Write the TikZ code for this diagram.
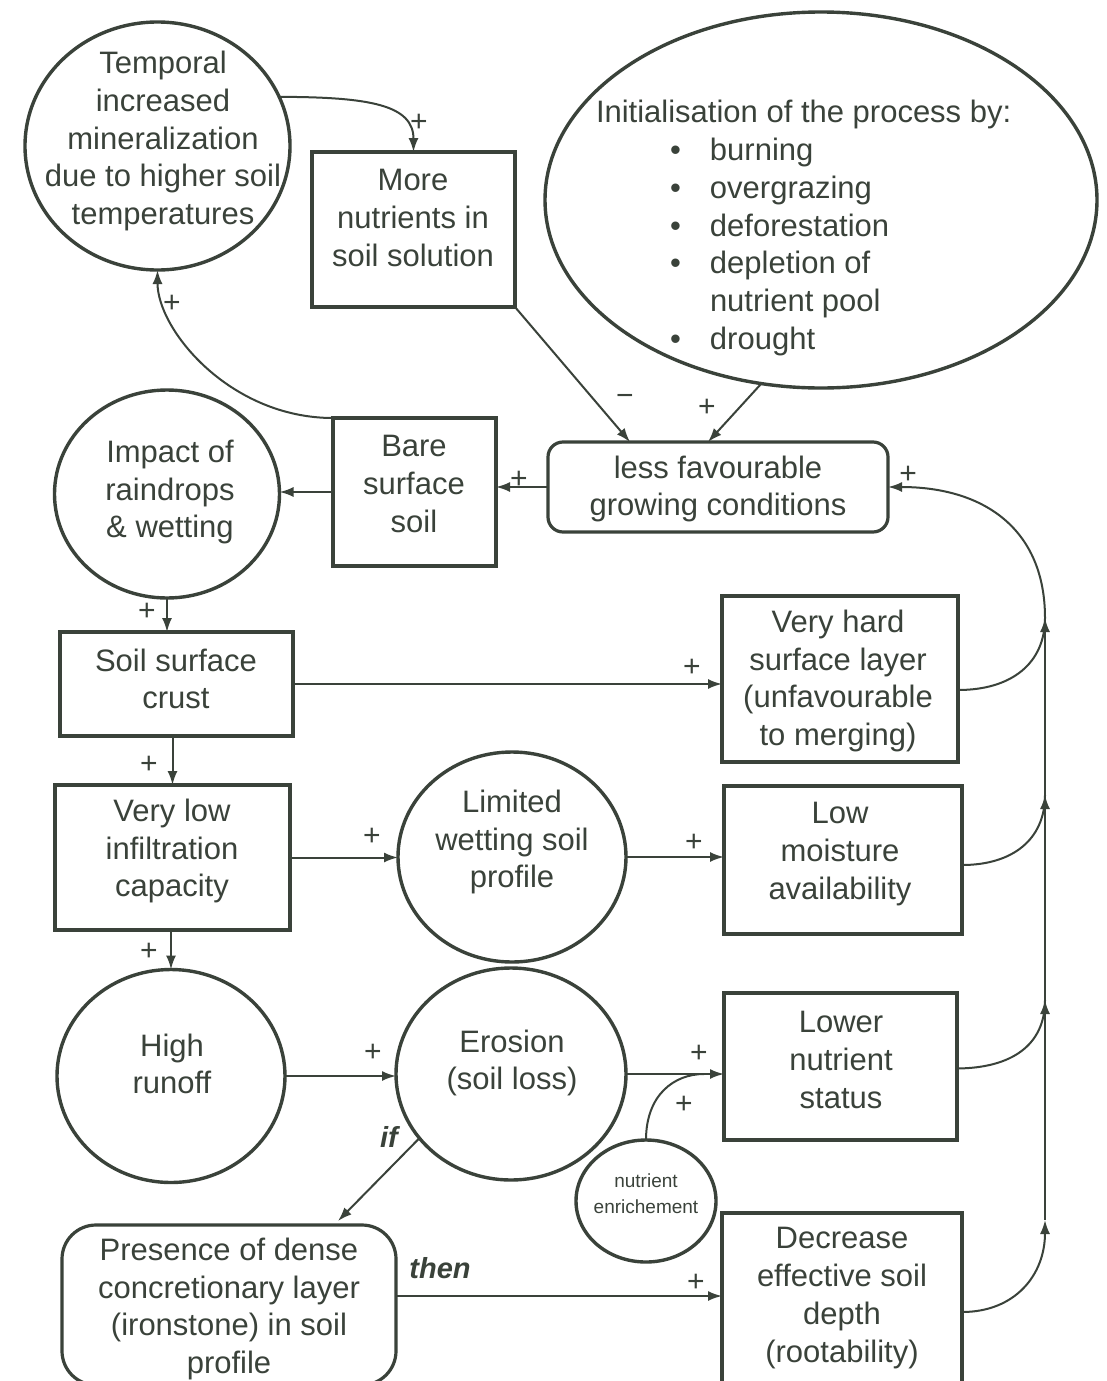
\documentclass[tikz,border=0pt]{standalone}
\usepackage{fontspec}
\setmainfont{Liberation Sans}
\usetikzlibrary{arrows.meta,shapes.geometric,calc}
\definecolor{ink}{RGB}{58,66,58}
\newcommand{\itembul}{\hspace*{37pt}\makebox[20pt][l]{\textbullet}}
\newcommand{\itemnob}{\hspace*{37pt}\makebox[20pt][l]{}}
\begin{document}
\begin{tikzpicture}[x=0.5pt,y=-0.5pt,
  every node/.style={inner sep=0pt, outer sep=0pt, text=ink},
  txt/.style={font=\fontsize{15.5pt}{18.9pt}\selectfont, align=center},
  box/.style={draw=ink, line width=2pt, rectangle},
  rbox/.style={draw=ink, line width=1.6pt, rectangle, rounded corners=7.5pt},
  circ/.style={draw=ink, line width=1.7pt, ellipse},
  arr/.style={draw=ink, line width=1pt, -{Latex[length=7pt,width=5pt]}},
  ln/.style={draw=ink, line width=1pt},
  sgn/.style={font=\fontsize{15pt}{15pt}\selectfont},
  cond/.style={font=\fontsize{14.5pt}{14.5pt}\selectfont\bfseries\itshape}
]
\useasboundingbox[fill=white] (0,0) rectangle (1107,1381);

% ---- shapes ----
\node[circ, minimum width=132.5pt, minimum height=124pt] (temp) at (157.5,146) {};
\node[box, minimum width=101.5pt, minimum height=77.5pt] (more) at (413.5,229.5) {};
\node[circ, minimum width=276pt, minimum height=188pt] (init) at (821,200) {};
\node[rbox, minimum width=170pt, minimum height=45pt] (less) at (718,487) {};
\node[box, minimum width=81.5pt, minimum height=74pt] (bare) at (414.5,492) {};
\node[circ, minimum width=112.5pt, minimum height=104pt] (impact) at (167,494) {};
\node[box, minimum width=116.5pt, minimum height=52pt] (crust) at (176.5,684) {};
\node[box, minimum width=118pt, minimum height=83pt] (hard) at (840,679) {};
\node[box, minimum width=117.5pt, minimum height=72.5pt] (lowinf) at (172.5,857.5) {};
\node[circ, minimum width=114pt, minimum height=105pt] (limited) at (512,857) {};
\node[box, minimum width=119pt, minimum height=74pt] (moist) at (843,860) {};
\node[circ, minimum width=114pt, minimum height=106.5pt] (runoff) at (171,1076) {};
\node[circ, minimum width=115pt, minimum height=106pt] (erosion) at (511,1074) {};
\node[box, minimum width=116.5pt, minimum height=73.5pt] (lownut) at (840.5,1066.5) {};
\node[circ, minimum width=70pt, minimum height=61pt] (enrich) at (646,1201) {};
\node[box, minimum width=120pt, minimum height=86pt] (dec) at (842,1299) {};
\node[rbox, rounded corners=17pt, minimum width=167pt, minimum height=80pt] (pres) at (229,1305) {};

% ---- texts ----
\node[txt] (tempT) at (163,141) {Temporal\\increased\\mineralization\\due to higher soil\\temperatures};
\node[txt] (moreT) at (413,218) {More\\nutrients in\\soil solution};
\node[txt, align=left, anchor=west] (initT) at (596,228) {Initialisation of the process by:\\
\itembul burning\\
\itembul overgrazing\\
\itembul deforestation\\
\itembul depletion of\\
\itemnob nutrient pool\\
\itembul drought};
\node[txt] (lessT) at (718,489) {less favourable\\growing conditions};
\node[txt] (bareT) at (414,484) {Bare\\surface\\soil};
\node[txt] (impactT) at (170,492) {Impact of\\raindrops\\\& wetting};
\node[txt] (crustT) at (176,679) {Soil surface\\crust};
\node[txt] (hardT) at (838,681) {Very hard\\surface layer\\(unfavourable\\to merging)};
\node[txt] (lowinfT) at (172,851) {Very low\\infiltration\\capacity};
\node[txt] (limitedT) at (512,842) {Limited\\wetting soil\\profile};
\node[txt] (moistT) at (840,854) {Low\\moisture\\availability};
\node[txt] (runoffT) at (172,1064) {High\\runoff};
\node[txt] (erosionT) at (512,1063) {Erosion\\(soil loss)};
\node[txt] (lownutT) at (841,1060) {Lower\\nutrient\\status};
\node[txt, font=\fontsize{9.5pt}{13pt}\selectfont] (enrichT) at (646,1194) {nutrient\\enrichement};
\node[txt] (decT) at (842,1298) {Decrease\\effective soil\\depth\\(rootability)};
\node[txt] (presT) at (229,1309) {Presence of dense\\concretionary layer\\(ironstone) in soil\\profile};

% ---- connectors ----
\draw[arr] (temp.22) .. controls (370,97) and (413.5,105) .. (more.north);
\draw[arr] (bare.north west) .. controls (230,418) and (157.5,330) .. (temp.south);
\coordinate (lessA) at ($(less.north)+(-88,0)$);
\coordinate (lessB) at ($(less.north)+(-10,0)$);
\draw[arr] (more.south east) -- (lessA);
\draw[arr] (init.-108) -- (lessB);
\draw[arr] (less.west) -- (less.west -| bare.east);
\draw[arr] (bare.west) -- (bare.west -| impact.east);
\draw[arr] (impact.south) -- (impact.south |- crust.north);
\draw[arr] (crust.east) -- (crust.east -| hard.west);
\draw[arr] (lowinf.north |- crust.south) -- (lowinf.north);
\draw[arr] (lowinf.east) -- (lowinf.east -| limited.west);
\draw[arr] (limited.east) -- (limited.east -| moist.west);
\draw[arr] (runoff.north |- lowinf.south) -- (runoff.north);
\draw[arr] (runoff.east) -- (runoff.east -| erosion.west);
\draw[arr] (erosion.east) -- (erosion.east -| lownut.west);
\coordinate (merge) at ($(erosion.east -| lownut.west)+(-20,0)$);
\draw[ln] (enrich.north) .. controls ($(enrich.north)+(0,-45)$) and ($(merge)+(-30,0)$) .. (merge);
\coordinate (presA) at ($(pres.north east)+(-58,-4)$);
\draw[arr] (erosion.215) -- (presA);
\coordinate (presE) at ($(pres.east)+(0,-9)$);
\draw[arr] (presE) -- (presE -| dec.west);

% feedback line
\coordinate (j1) at (1045,618);
\coordinate (j2) at (1045,795);
\coordinate (j3) at (1045,1000);
\coordinate (j4) at (1045,1220);
\draw[arr] ($(dec.east)+(0,13)$) .. controls (1015,1312) and (1045,1275) .. (j4);
\draw[arr] (j4) -- (j3);
\draw[ln] ($(lownut.east)+(0,2)$) .. controls (1012,1068) and (1045,1045) .. (j3);
\draw[arr] (j3) -- (j2);
\draw[ln] ($(moist.east)+(0,5)$) .. controls (1012,865) and (1045,840) .. (j2);
\draw[arr] (j2) -- (j1);
\draw[ln] ($(hard.east)+(0,11)$) .. controls (1012,690) and (1045,663) .. (j1);
\draw[arr] (j1) .. controls (1045,530) and (985,487) .. (less.east);

% ---- signs ----
\node[sgn] (s1) at (419,123) {+};
\node[sgn] (s2) at (172,304) {+};
\node[sgn] (s3) at (625,400) {−};
\node[sgn] (s4) at (707,408) {+};
\node[sgn] (s5) at (519,480) {+};
\node[sgn] (s6) at (908,475) {+};
\node[sgn] (s7) at (147,612) {+};
\node[sgn] (s8) at (692,668) {+};
\node[sgn] (s9) at (149,765) {+};
\node[sgn] (s10) at (372,837) {+};
\node[sgn] (s11) at (694,843) {+};
\node[sgn] (s12) at (149,952) {+};
\node[sgn] (s13) at (373,1053) {+};
\node[sgn] (s14) at (699,1054) {+};
\node[sgn] (s15) at (684,1105) {+};
\node[sgn] (s16) at (696,1283) {+};
\node[cond] (cif) at (389,1137) {if};
\node[cond] (cthen) at (440,1268) {then};
\end{tikzpicture}
\end{document}
